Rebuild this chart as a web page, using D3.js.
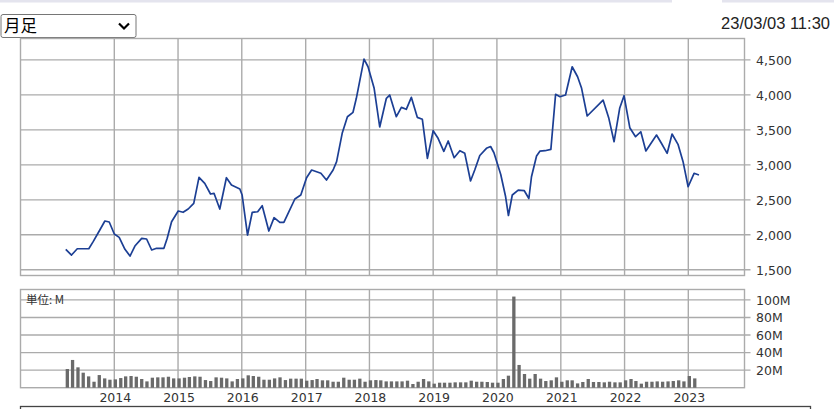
<!DOCTYPE html>
<html><head><meta charset="utf-8">
<script src="https://cdn.jsdelivr.net/npm/d3@7"></script>
<style>
html,body{margin:0;padding:0;background:#fff;}
svg{display:block;}
</style></head>
<body>
<svg id="c" width="834" height="409"></svg>
<script>
// ---- data ----
const priceDates = ["2013-03-29","2013-05-01","2013-06-03","2013-08-08","2013-09-02","2013-10-10","2013-11-08","2013-12-03",
"2014-01-01","2014-01-29","2014-03-03","2014-04-01","2014-04-29","2014-06-07","2014-07-05","2014-08-03","2014-08-31","2014-10-12","2014-10-31","2014-11-25",
"2015-01-02","2015-01-30","2015-02-28","2015-04-01","2015-05-01","2015-06-03","2015-07-06","2015-07-26","2015-08-28","2015-10-05","2015-11-03","2015-12-21",
"2016-01-03","2016-02-03","2016-03-01","2016-04-01","2016-04-27","2016-06-04","2016-07-04","2016-08-06","2016-08-29","2016-09-27","2016-10-31","2016-12-04",
"2017-01-06","2017-02-04","2017-03-29","2017-04-30","2017-06-07","2017-06-27","2017-07-29","2017-08-28","2017-09-29","2017-10-18","2017-12-01","2017-12-24",
"2018-01-28","2018-03-01","2018-04-08","2018-04-27","2018-06-04","2018-07-03","2018-07-31","2018-08-29","2018-10-02","2018-10-31","2018-11-29",
"2019-01-01","2019-01-29","2019-03-03","2019-03-28","2019-05-01","2019-06-03","2019-07-01","2019-08-03","2019-08-27","2019-09-25","2019-11-02","2019-11-26","2019-12-15",
"2020-01-23","2020-02-19","2020-03-07","2020-03-29","2020-05-02","2020-06-05","2020-07-02","2020-07-17","2020-08-15","2020-09-03","2020-10-02","2020-11-05","2020-12-02","2020-12-27",
"2021-01-28","2021-03-07","2021-04-07","2021-04-30","2021-06-01","2021-08-31","2021-10-03","2021-11-02","2021-12-04","2021-12-29",
"2022-01-31","2022-03-05","2022-04-04","2022-05-03","2022-07-03","2022-07-31","2022-09-02","2022-09-30","2022-11-03","2022-12-02","2022-12-31",
"2023-02-03","2023-03-03"];
const priceValues = [1793,1711,1801,1801,1902,2069,2197,2183,
2012,1964,1793,1697,1840,1950,1940,1783,1807,1807,1950,2187,
2340,2322,2369,2450,2822,2736,2583,2593,2369,2816,2712,2655,
2569,1997,2322,2330,2416,2054,2245,2179,2179,2330,2512,2569,
2816,2926,2879,2783,2926,3045,3451,3688,3751,3951,4512,4402,
4094,3541,3951,3998,3688,3822,3794,3965,3679,3651,3093,
3488,3379,3193,3341,3102,3202,3165,2769,2926,3133,3236,3262,3173,
2862,2555,2276,2569,2640,2633,2519,2830,3126,3195,3202,3222,4008,3974,
3998,4402,4259,4094,3698,3926,3665,3331,3808,3988,
3531,3402,3473,3198,3426,3308,3165,3441,3293,3045,2687,
2879,2855];

const volStart = "2013-04";
const volValues = [21.3,31.6,23.2,17.1,12.9,6.8,14.4,10.6,9.1,9.5,11,12.9,13.3,12.5,9.9,7.2,11.4,11.8,11.8,12.5,10.6,10.6,11.4,12.2,12.9,12.5,8.7,7.6,11.8,11.4,10.6,7.2,9.9,10.6,14.1,13.3,12.5,9.1,9.1,10.6,
11.8,8.7,10.3,10.3,10.3,8.0,8.7,9.9,8.4,8.4,6.8,6.8,11.4,9.1,9.1,10.3,6.8,8.4,8.7,8.4,7.2,7.2,7.2,7.2,8.0,4.2,6.8,9.9,7.2,4.6,5.7,5.7,5.7,6.1,6.1,6.1,8.0,6.8,6.8,6.5,5.7,5.7,9.9,13.7,103.8,25.9,15.6,10.3,15.6,10.3,7.6,8.4,11.8,
6.8,8.4,8.4,4.9,6.5,9.9,6.5,6.5,6.1,6.8,6.1,6.1,8.4,9.9,7.6,4.6,6.8,6.8,7.2,6.8,7.2,7.6,8.4,7.2,13.3,10.6];

const yearTicks = [2014,2015,2016,2017,2018,2019,2020,2021,2022,2023];
const priceTicks = [1500,2000,2500,3000,3500,4000,4500];
const volTicks = [20,40,60,80,100];
const periodLabel = "月足";
const timestamp = "23/03/03 11:30";
const unitLabel = "単位: M";

// ---- drawing ----
const svg = d3.select("#c");
const parse = d3.timeParse("%Y-%m-%d");
const L = 20.5, R = 744.5;
const top1 = 38.5, bot1 = 275.5, top2 = 289.5, bot2 = 387.7;
const grid = "#ababab";

const x = d3.scaleTime().domain([new Date(2014,0,1), new Date(2023,0,1)]).range([114.3, 688.3]);
const y1 = d3.scaleLinear().domain([1500,4500]).range([269.8, 59.9]);
const y2 = d3.scaleLinear().domain([0,100]).range([bot2, 299.9]);

// top tab strip
svg.append("rect").attr("x",0).attr("y",0).attr("width",672).attr("height",2.5).attr("fill","#e4e4ee");
svg.append("rect").attr("x",722).attr("y",0).attr("width",112).attr("height",2.5).attr("fill","#e4e4ee");

// select box
const sel = svg.append("g");
sel.append("rect").attr("x",1).attr("y",14.5).attr("width",135).attr("height",23).attr("rx",2)
  .attr("fill","#fff").attr("stroke","#767676").attr("stroke-width",1);
sel.append("text").attr("x",4).attr("y",32).attr("font-family","'Noto Sans CJK JP'").attr("font-size",16.5)
  .attr("fill","#000").text(periodLabel);
sel.append("path").attr("d","M119,23.5 L124,28.5 L129,23.5").attr("fill","none").attr("stroke","#000").attr("stroke-width",2.2);

svg.append("text").attr("x",830).attr("y",28.5).attr("text-anchor","end")
  .attr("font-family","'Liberation Sans', Arial, sans-serif").attr("font-size",16.5).attr("fill","#222").text(timestamp);

function panel(top, bot, yScale, ticks, fmt) {
  const g = svg.append("g");
  // horizontal gridlines + right ticks
  g.selectAll(".h").data(ticks).join("line")
    .attr("x1",L).attr("x2",R+6).attr("y1",d=>yScale(d)).attr("y2",d=>yScale(d))
    .attr("stroke",grid).attr("stroke-width",1.4);
  g.selectAll(".v").data(yearTicks).join("line")
    .attr("x1",d=>x(new Date(d,0,1))).attr("x2",d=>x(new Date(d,0,1)))
    .attr("y1",top).attr("y2",bot).attr("stroke",grid).attr("stroke-width",1.4);
  g.append("rect").attr("x",L).attr("y",top).attr("width",R-L).attr("height",bot-top)
    .attr("fill","none").attr("stroke",grid).attr("stroke-width",1.4);
  g.selectAll(".t").data(ticks).join("text")
    .attr("x",756).attr("y",d=>yScale(d)+4.7)
    .attr("font-family","'DejaVu Sans', Verdana, sans-serif").attr("font-size",12.5).attr("fill","#333")
    .text(fmt);
  return g;
}
panel(top1, bot1, y1, priceTicks, d3.format(","));
panel(top2, bot2, y2, volTicks, d=>d+"M");

// unit label
svg.append("text").attr("x",26).attr("y",303.5).attr("font-family","'Noto Sans CJK JP'").attr("font-size",11.5)
  .attr("fill","#333").text(unitLabel);

// volume bars
const m0 = d3.timeParse("%Y-%m")(volStart);
const volData = volValues.map((v,i)=>({d:d3.timeMonth.offset(m0,i), v}));
svg.append("g").selectAll("rect").data(volData).join("rect")
  .attr("x",d=>x(d.d)-0.6).attr("width",3.3)
  .attr("y",d=>y2(d.v)).attr("height",d=>bot2-y2(d.v))
  .attr("fill","#6a6a6a");

// price line
const pdata = priceDates.map((s,i)=>({d:parse(s), v:priceValues[i]}));
svg.append("path").datum(pdata)
  .attr("d", d3.line().x(d=>x(d.d)).y(d=>y1(d.v)))
  .attr("fill","none").attr("stroke","#1c3f94").attr("stroke-width",1.7).attr("stroke-linejoin","round");

// year labels
svg.append("g").selectAll("text").data(yearTicks).join("text")
  .attr("x",d=>x(new Date(d,0,1))+1).attr("y",402).attr("text-anchor","middle")
  .attr("font-family","'DejaVu Sans', Verdana, sans-serif").attr("font-size",12.5).attr("fill","#333")
  .text(d=>d);

// bottom box
svg.append("rect").attr("x",20.5).attr("y",406.5).attr("width",790).attr("height",10)
  .attr("fill","#fff").attr("stroke","#444").attr("stroke-width",1.3);
</script>
</body></html>
